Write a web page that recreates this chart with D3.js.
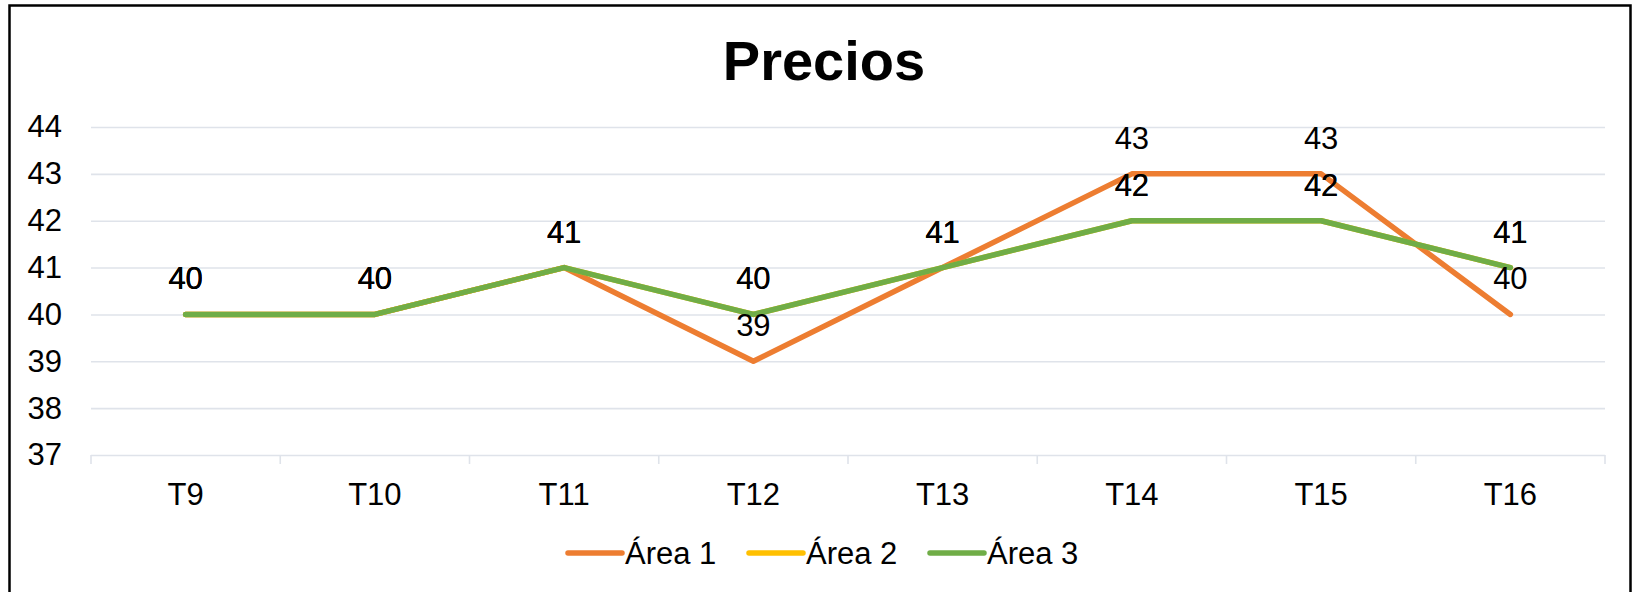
<!DOCTYPE html>
<html>
<head>
<meta charset="utf-8">
<script src="https://cdn.jsdelivr.net/npm/d3@7"></script>
<style>
  body { margin: 0; background: #fff; }
  svg { display: block; font-family: "Liberation Sans", Arial, sans-serif; }
</style>
</head>
<body>
<svg id="chart" width="1635" height="592"></svg>
<script>
// Precios chart
var categories = ["T9", "T10", "T11", "T12", "T13", "T14", "T15", "T16"];
var area1 = [40, 40, 41, 39, 41, 43, 43, 40];
var area2 = [40, 40, 41, 40, 41, 42, 42, 41];
var area3 = [40, 40, 41, 40, 41, 42, 42, 41];
var seriesNames = ["Área 1", "Área 2", "Área 3"];
var seriesColors = ["#ED7D31", "#FFC000", "#70AD47"];
var yTicks = [37, 38, 39, 40, 41, 42, 43, 44];

var series = [area1, area2, area3].map(function(v, i) {
  return { name: seriesNames[i], color: seriesColors[i], values: v };
});

var svg = d3.select("#chart");
var plotL = 91, plotR = 1605, plotT = 127, plotB = 455;
var fs = 31;

// outer frame (bottom edge falls outside the picture)
svg.append("rect")
  .attr("x", 9.5).attr("y", 5.5).attr("width", 1621).attr("height", 600)
  .attr("fill", "none").attr("stroke", "#000").attr("stroke-width", 2.5);

svg.append("text")
  .attr("x", 824).attr("y", 80)
  .attr("text-anchor", "middle")
  .attr("font-size", 56).attr("font-weight", "bold")
  .text("Precios");

var x = d3.scaleBand().domain(categories).range([plotL, plotR]);
var y = d3.scaleLinear().domain([37, 44]).range([plotB, plotT]);

// gridlines + y labels
var yAxis = svg.append("g")
  .attr("transform", "translate(" + plotL + ",0)")
  .call(d3.axisLeft(y).tickValues(yTicks).tickFormat(d3.format("d"))
    .tickSize(-(plotR - plotL)).tickPadding(29));
yAxis.select(".domain").remove();
yAxis.selectAll(".tick line").attr("stroke", "#dfe3ea").attr("stroke-width", 1.6);
yAxis.selectAll(".tick text")
  .attr("font-size", fs).attr("fill", "#000")
  .attr("font-family", "Liberation Sans, Arial, sans-serif");

// x axis with ticks at category boundaries
var bounds = categories.map(function(c) { return x(c); }).concat([plotR]);
svg.append("g").selectAll("line.xtick")
  .data(bounds)
  .enter().append("line")
  .attr("x1", function(d) { return d; }).attr("x2", function(d) { return d; })
  .attr("y1", plotB).attr("y2", plotB + 9)
  .attr("stroke", "#dfe3ea").attr("stroke-width", 1.6);

svg.append("g").selectAll("text.xlab")
  .data(categories)
  .enter().append("text")
  .attr("x", function(d) { return x(d) + x.bandwidth() / 2; })
  .attr("y", 505)
  .attr("text-anchor", "middle")
  .attr("font-size", fs)
  .text(function(d) { return d; });

var line = d3.line()
  .x(function(d, i) { return x(categories[i]) + x.bandwidth() / 2; })
  .y(function(d) { return y(d); });

svg.append("g").selectAll("path.series")
  .data(series)
  .enter().append("path")
  .attr("d", function(d) { return line(d.values); })
  .attr("fill", "none")
  .attr("stroke", function(d) { return d.color; })
  .attr("stroke-width", 5.5)
  .attr("stroke-linecap", "round")
  .attr("stroke-linejoin", "round");

// data labels above each point
series.forEach(function(s) {
  svg.append("g").selectAll("text")
    .data(s.values)
    .enter().append("text")
    .attr("x", function(d, i) { return x(categories[i]) + x.bandwidth() / 2; })
    .attr("y", function(d) { return y(d) - 25; })
    .attr("text-anchor", "middle")
    .attr("font-size", fs)
    .text(function(d) { return d; });
});

// legend
var legend = svg.append("g").selectAll("g")
  .data(series)
  .enter().append("g")
  .attr("transform", function(d, i) { return "translate(" + (568 + i * 181) + ",553)"; });
legend.append("line")
  .attr("x1", 0).attr("x2", 54)
  .attr("stroke", function(d) { return d.color; })
  .attr("stroke-width", 5.5)
  .attr("stroke-linecap", "round");
legend.append("text")
  .attr("x", 57).attr("y", 11)
  .attr("font-size", fs)
  .text(function(d) { return d.name; });
</script>
</body>
</html>
